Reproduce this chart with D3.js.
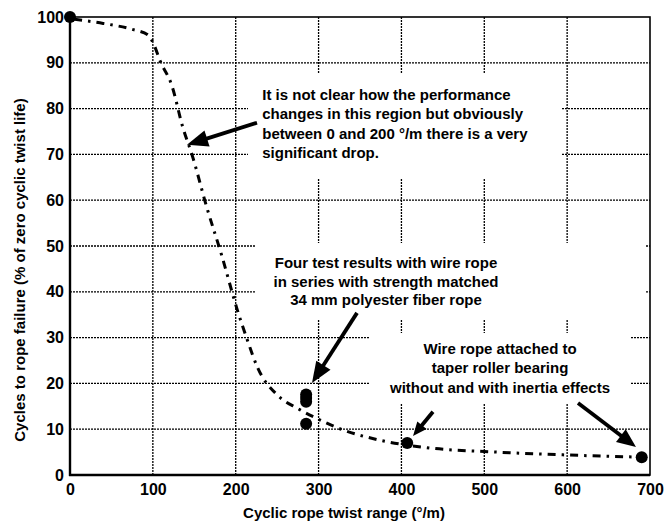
<!DOCTYPE html>
<html><head><meta charset="utf-8">
<script src="https://cdn.jsdelivr.net/npm/d3@7"></script>
<style>
html,body{margin:0;padding:0;background:#fff;}
svg text{font-family:"Liberation Sans",Arial,Helvetica,sans-serif;fill:#000;}
</style></head>
<body><svg id="chart" width="664" height="528"></svg>
<script>
// ---- data ----
const xTicks = [0,100,200,300,400,500,600,700];
const yTicks = [0,10,20,30,40,50,60,70,80,90,100];
const curveX = [5,40,75,94,100,109,123,136,148,165,183,202,214,226,250,274,302,320,374,434,515,595,690];
const curveY = [99.5,98.6,97.3,96.1,94.5,90.3,85,76,69.5,58.5,48,36,29.5,23.6,17.5,14.6,12,10.5,7.6,5.9,5,4.4,3.9];
const pointX = [0,285,285,285,285,407,690];
const pointY = [100,17.6,16.8,16.0,11.2,7.0,3.9];
const xTitle = "Cyclic rope twist range (°/m)";
const yTitle = "Cycles to rope failure (% of zero cyclic twist life)";
const note1 = ["It is not clear how the performance","changes in this region but obviously","between 0 and 200 °/m there is a very","significant drop."];
const note2 = ["Four test results with wire rope","in series with strength matched","34 mm polyester fiber rope"];
const note3 = ["Wire rope attached to","taper roller bearing","without and with inertia effects"];
// arrows: [fromX, fromY, toX, toY] in data units
const arrowFromX = [225.7,346.4,438.1,613.1];
const arrowFromY = [76.9,35.4,13.8,15.7];
const arrowToX = [141.2,292.1,414,683.1];
const arrowToY = [72.1,20.1,8.5,6.1];

// ---- layout ----
const svg = d3.select("#chart");
const x = d3.scaleLinear().domain([0,700]).range([70,650]);
const y = d3.scaleLinear().domain([0,100]).range([475,17]);

// grid
const grid = svg.append("g");
grid.selectAll(".gx").data(xTicks.slice(1,-1)).join("line")
  .attr("x1",d=>x(d)).attr("x2",d=>x(d)).attr("y1",y(0)).attr("y2",y(100))
  .attr("stroke","#000").attr("stroke-width",1.3).attr("stroke-dasharray","2,1");
grid.selectAll(".gy").data(yTicks.slice(1,-1)).join("line")
  .attr("x1",x(0)).attr("x2",x(700)).attr("y1",d=>y(d)).attr("y2",d=>y(d))
  .attr("stroke","#000").attr("stroke-width",1.3).attr("stroke-dasharray","2,1");

// white boxes behind annotations (mask grid like original)
const boxes = [[248,73,314,105],[255,243,390,77],[370,333,260,71]];
svg.selectAll(".box").data(boxes).join("rect")
  .attr("x",d=>d[0]).attr("y",d=>d[1]).attr("width",d=>d[2]).attr("height",d=>d[3])
  .attr("fill","#fff");

// frame
svg.append("rect").attr("x",x(0)).attr("y",y(100)).attr("width",x(700)-x(0)).attr("height",y(0)-y(100))
  .attr("fill","none").attr("stroke","#000").attr("stroke-width",1.6);
svg.append("line").attr("x1",x(0)).attr("x2",x(0)).attr("y1",y(100)).attr("y2",y(0)+1).attr("stroke","#000").attr("stroke-width",2.4);
svg.append("line").attr("x1",x(0)-1).attr("x2",x(700)).attr("y1",y(0)).attr("y2",y(0)).attr("stroke","#000").attr("stroke-width",2.4);

// axes labels via d3 axes
const xAxis = svg.append("g").attr("transform",`translate(0,${y(0)})`)
  .call(d3.axisBottom(x).tickValues(xTicks).tickSize(0).tickPadding(9).tickFormat(d3.format("d")));
const yAxis = svg.append("g").attr("transform",`translate(${x(0)},0)`)
  .call(d3.axisLeft(y).tickValues(yTicks).tickSize(0).tickPadding(6).tickFormat(d3.format("d")));
[xAxis,yAxis].forEach(a=>{
  a.select(".domain").remove();
  a.selectAll("text").attr("font-size",16).attr("font-weight","bold")
    .attr("font-family","'Liberation Sans',Arial,sans-serif").attr("fill","#000");
});

svg.append("text").attr("x",344).attr("y",518).attr("text-anchor","middle")
  .attr("font-size",15).attr("font-weight","bold").text(xTitle);
svg.append("text").attr("transform","translate(25,270) rotate(-90)").attr("text-anchor","middle")
  .attr("font-size",15).attr("font-weight","bold").text(yTitle);

// curve
const line = d3.line().x(d=>x(d[0])).y(d=>y(d[1])).curve(d3.curveMonotoneX);
svg.append("path").datum(curveX.map((v,i)=>[v,curveY[i]]))
  .attr("d",line).attr("fill","none").attr("stroke","#000").attr("stroke-width",3)
  .attr("stroke-dasharray","8,6,2.5,6");

// points
svg.selectAll(".pt").data(pointX.map((v,i)=>[v,pointY[i]])).join("circle")
  .attr("cx",d=>x(d[0])).attr("cy",d=>y(d[1])).attr("r",6).attr("fill","#000");

// arrows
const heads = [[21,17],[21,17],[14,12],[19,16]];
arrowFromX.forEach((fx,i)=>{
  const x1=x(fx), y1=y(arrowFromY[i]), x2=x(arrowToX[i]), y2=y(arrowToY[i]);
  const ang=Math.atan2(y2-y1,x2-x1);
  const [hl,hw]=heads[i];
  const bx=x2-hl*Math.cos(ang), by=y2-hl*Math.sin(ang);
  svg.append("line").attr("x1",x1).attr("y1",y1).attr("x2",bx+2*Math.cos(ang)).attr("y2",by+2*Math.sin(ang))
    .attr("stroke","#000").attr("stroke-width",3.8);
  const px=-Math.sin(ang), py=Math.cos(ang);
  svg.append("polygon").attr("points",[[x2,y2],[bx+px*hw/2,by+py*hw/2],[bx-px*hw/2,by-py*hw/2]].map(p=>p.join(",")).join(" "))
    .attr("fill","#000");
});

// notes
function note(lines, ax, ay, anchor, gap){
  const t = svg.append("text").attr("font-size",15).attr("font-weight","bold").attr("text-anchor",anchor);
  lines.forEach((s,i)=>t.append("tspan").attr("x",x(ax)).attr("y",y(ay)+i*gap).text(s));
}
note(note1, 232, 81.9, "start", 19.5);
note(note2, 381.4, 45.2, "middle", 18.7);
note(note3, 519, 26.4, "middle", 19.3);
</script></body></html>
